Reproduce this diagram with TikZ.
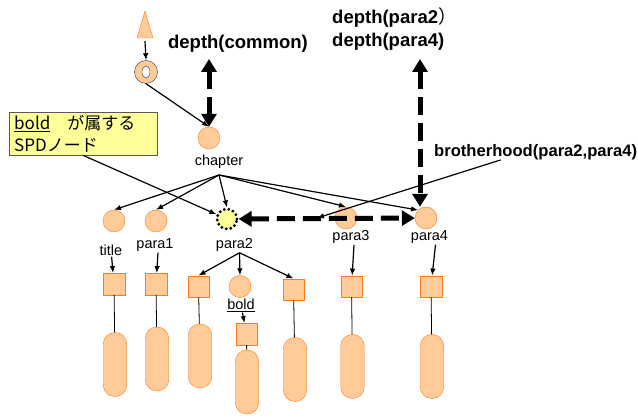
\documentclass[tikz,border=0pt]{standalone}
\usepackage{fontspec}
\setmainfont{Liberation Sans}
\newfontfamily\jpfont{Noto Sans CJK JP}
\usetikzlibrary{arrows.meta,positioning}
\definecolor{peach}{HTML}{FFCC99}
\definecolor{rim}{HTML}{FF7A1F}
\definecolor{lemon}{HTML}{FFFF99}

\begin{document}
\begin{tikzpicture}[x=1pt,y=-1pt,>={Latex[length=7pt,width=5.5pt]},
  el/.style={circle,draw=rim,fill=peach,minimum size=22pt,inner sep=0pt},
  tg/.style={rectangle,draw=rim,fill=peach,minimum size=21.5pt,inner sep=0pt},
  body/.style={rectangle,draw=rim,fill=peach,rounded corners=11.5pt,minimum width=23.5pt,minimum height=64pt,inner sep=0pt},
  lab/.style={font=\fontsize{14.5}{17}\selectfont,inner sep=1pt},
  big/.style={font=\bfseries\fontsize{18.5}{23}\selectfont,inner sep=0pt,align=left},
  ln/.style={line width=1.2pt},
  thk/.style={line width=5pt,dash pattern=on 18pt off 8pt,{Triangle[length=13pt,width=15pt]}-{Triangle[length=13pt,width=15pt]}}]
\useasboundingbox (0,0) rectangle (638,419);

% root part
\filldraw[draw=rim,fill=peach] (145,11) -- (153,38) -- (137,38) -- cycle;
\coordinate (tb) at (145,41);
\node[circle,draw=black!80,fill=peach,minimum width=22pt,minimum height=23pt,inner sep=0pt] (rg) at (146,72) {};
\filldraw[draw=black!80,fill=white] (rg) ellipse (4pt and 6pt);
\node[el] (ch) at (209,138) {};
\node[lab] (chl) at (219,162) {chapter};
\coordinate (chb) at (219,175);
\draw[->,ln] (tb) -- (rg.north);
\draw[->,ln] (rg.south) -- (ch.north);

% children of chapter
\node[el] (ti) at (114,221) {};
\node[el] (p1) at (156,221) {};
\node[circle,draw=black,fill=lemon,minimum size=20pt,inner sep=0pt,line width=3.2pt,dash pattern=on 0pt off 4.6pt,line cap=round] (p2) at (227,219) {};
\node[el] (p3) at (346,218) {};
\node[el] (p4) at (426,218) {};
\node[lab] (lt) at (111,250) {title};
\node[lab] (l1) at (155,245) {para1};
\node[lab] (l2) at (234.5,245) {para2};
\node[lab] (l3) at (351,237) {para3};
\node[lab] (l4) at (429.5,237) {para4};
\draw[->,ln] (chb) -- (ti.north);
\draw[->,ln] (chb) -- (p1.north);
\draw[->,ln] (chb) -- (p2.north);
\draw[->,ln] (chb) -- (p3.north);
\draw[->,ln] (chb) -- (p4.north west);

% tags and text bodies
\node[tg] (st) at (114,284) {};
\node[tg] (s1) at (156,284) {};
\node[tg] (s3) at (351.5,286.5) {};
\node[tg] (s4) at (431,286.5) {};
\node[tg] (sa) at (198.5,286.5) {};
\node[el] (bc) at (240,286.5) {};
\node[tg] (sc) at (293.5,289.5) {};
\node[lab] (lb) at (241,305) {\underline{bold}};
\node[tg] (sb) at (246.5,334) {};
\node[body] (ct) at (115,364.5) {};
\node[body] (c1) at (157,359) {};
\node[body] (ca) at (200,356) {};
\node[body] (cb) at (247,382) {};
\node[body] (cc) at (295,369.5) {};
\node[body] (c3) at (352.5,366.5) {};
\node[body] (c4) at (432,366.5) {};
\draw[->,ln] (lt) -- (st);
\draw[->,ln] ([xshift=3pt]l1.south) -- (s1);
\draw[->,ln] ([xshift=3pt]l3.south) -- (s3);
\draw[->,ln] ([xshift=6pt]l4.south) -- (s4);
\draw[->,ln] ([xshift=5pt]l2.south) -- (sa.north);
\draw[->,ln] ([xshift=5pt]l2.south) -- (bc.north);
\draw[->,ln] ([xshift=5pt]l2.south) -- (sc.north);
\draw[->,ln] (lb) -- (sb);
\foreach \s/\c in {st/ct,s1/c1,sa/ca,sb/cb,sc/cc,s3/c3,s4/c4}
  \draw[line width=0.8pt] (\s) -- (\c);

% depth and brotherhood
\node[big] (dc) at (238,44) {depth(common)};
\node[big,anchor=west] (dp) at (332,29) {depth(para2{\mdseries\jpfont ）}\\depth(para4)};
\node[big,font=\bfseries\fontsize{16.6}{20}\selectfont,anchor=west] (br) at (434,152) {brotherhood(para2,para4)};
\coordinate (dctop) at (209,59);
\coordinate (dptop) at (420,59);
\coordinate (brend) at (317,218);
\draw[thk] (ch.north) -- (dctop);
\draw[thk] (dptop) -- ([xshift=-6pt]p4.north);
\draw[thk] (p2) -- (p4);
\draw[->,ln] ([xshift=-35pt]br.south) -- (brend);

% note box
\node[draw=black!65,fill=lemon,anchor=north west,minimum width=148pt,minimum height=43pt,
  text width=138pt,align=left,inner xsep=5pt,inner ysep=1pt,
  font=\jpfont\fontsize{17}{22}\selectfont] (note) at (9,112) {\underline{bold}　が属する\\SPDノード};
\draw[->,ln] (note.south) -- (p2);
\end{tikzpicture}
\end{document}
